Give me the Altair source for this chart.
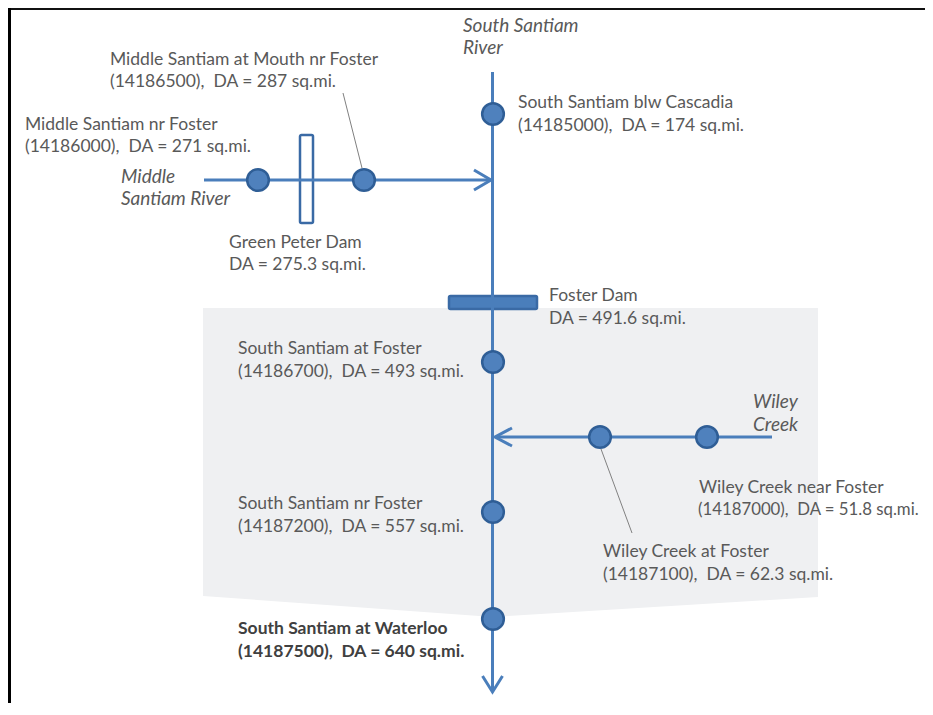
import altair as alt
import pandas as pd

# ---- schematic data (page-pixel coordinates) ----
# shaded area below Foster Dam
shade_x = [203, 493, 818]
shade_top = [308, 308, 308]
shade_bottom = [596, 617, 597]

# river polylines: id, x, y
river_id = ["main", "main", "middle", "middle", "wiley", "wiley",
            "arr_mid", "arr_mid", "arr_mid",
            "arr_wil", "arr_wil", "arr_wil",
            "arr_dn", "arr_dn", "arr_dn"]
river_x = [492.5, 492.5, 204, 490, 497, 772,
           474, 491, 474,
           512, 495, 512,
           482.5, 492.5, 502.5]
river_y = [72, 690, 180, 180, 437, 437,
           170, 180, 190,
           428, 437, 446,
           676, 692, 676]

# frame lines
frame_id = ["top", "top", "left", "left"]
frame_x = [8, 925, 9.5, 9.5]
frame_y = [9, 9, 8, 703]

# leader lines
leader_id = ["mouth", "mouth", "wiley", "wiley"]
leader_x = [343, 362, 601, 632]
leader_y = [93, 168, 449, 533]

# dams
dam_name = ["Green Peter", "Foster"]
dam_x1 = [300, 449]
dam_x2 = [313, 537]
dam_y1 = [135, 296]
dam_y2 = [223, 309]
dam_fill = ["#FFFFFF", "#4A7EBB"]

# gauging stations
station_x = [493, 258, 364, 493, 600, 707, 493, 493]
station_y = [114, 180, 180, 362, 437, 437, 512, 619]

# labels
label_text = [
    "Middle Santiam at Mouth nr Foster", "(14186500),\u00a0 DA = 287 sq.mi.",
    "Middle Santiam nr Foster", "(14186000),\u00a0 DA = 271 sq.mi.",
    "South Santiam blw Cascadia", "(14185000),\u00a0 DA = 174 sq.mi.",
    "Green Peter Dam", "DA = 275.3 sq.mi.",
    "Foster Dam", "DA = 491.6 sq.mi.",
    "South Santiam at Foster", "(14186700),\u00a0 DA = 493 sq.mi.",
    "Wiley Creek near Foster", "(14187000),\u00a0 DA = 51.8 sq.mi.",
    "Wiley Creek at Foster", "(14187100),\u00a0 DA = 62.3 sq.mi.",
    "South Santiam nr Foster", "(14187200),\u00a0 DA = 557 sq.mi.",
]
label_x = [110, 110, 25, 25, 518, 518, 229, 229, 549, 549,
           238, 238, 699, 698, 603, 603, 238, 238]
label_y = [65, 87, 130, 152, 108, 131, 248, 270, 301, 324,
           354, 377, 493, 515, 557, 580, 509, 532]
label_size = [17.5, 17.5, 17.5, 17.5, 17.5, 17.5, 17.5, 17.5, 17.5, 17.5,
              17.5, 17.5, 17.5, 16.8, 17.5, 17.5, 17.5, 17.5]

river_label_text = ["South Santiam", "River", "Middle", "Santiam River", "Wiley", "Creek"]
river_label_x = [463, 463, 121, 121, 753, 753]
river_label_y = [32, 54, 183, 205, 408, 431]

bold_text = ["South Santiam at Waterloo", "(14187500),\u00a0 DA = 640 sq.mi."]
bold_x = [238, 238]
bold_y = [634, 657]

# ---- scales: data coordinates equal page pixels ----
W, H = 917, 695
xs = alt.Scale(domain=[8, 8 + W], range=[0, W], nice=False, zero=False)
ys = alt.Scale(domain=[8, 8 + H], range=[0, H], nice=False, zero=False)


def X(f="x"):
    return alt.X(f, type="quantitative", scale=xs, axis=None)


def Y(f="y"):
    return alt.Y(f, type="quantitative", scale=ys, axis=None)


shade = alt.Chart(pd.DataFrame({"x": shade_x, "y": shade_top, "y2": shade_bottom})).mark_area(
    color="#EFF0F2"
).encode(x=X(), y=Y(), y2="y2:Q")

frame_df = pd.DataFrame({"id": frame_id, "x": frame_x, "y": frame_y, "o": range(len(frame_x))})
frame_top = alt.Chart(frame_df[frame_df.id == "top"]).mark_line(color="#111111", strokeWidth=2).encode(
    x=X(), y=Y(), detail="id:N", order="o:Q")
frame_left = alt.Chart(frame_df[frame_df.id == "left"]).mark_line(color="#000000", strokeWidth=3).encode(
    x=X(), y=Y(), detail="id:N", order="o:Q")

leaders = alt.Chart(pd.DataFrame({"id": leader_id, "x": leader_x, "y": leader_y,
                                  "o": range(len(leader_x))})).mark_line(
    color="#808080", strokeWidth=1).encode(x=X(), y=Y(), detail="id:N", order="o:Q")

dams = alt.Chart(pd.DataFrame({"name": dam_name, "x": dam_x1, "x2": dam_x2, "y": dam_y1,
                               "y2": dam_y2, "fill": dam_fill})).mark_rect(
    stroke="#3A6AA5", strokeWidth=2.5, cornerRadius=1.5).encode(
    x=X(), x2="x2:Q", y=Y(), y2="y2:Q", fill=alt.Fill("fill:N", scale=None))

rivers = alt.Chart(pd.DataFrame({"id": river_id, "x": river_x, "y": river_y,
                                 "o": range(len(river_x))})).mark_line(
    color="#4A7EBB", strokeWidth=3, strokeJoin="miter", strokeCap="butt").encode(
    x=X(), y=Y(), detail="id:N", order="o:Q")

stations = alt.Chart(pd.DataFrame({"x": station_x, "y": station_y})).mark_point(
    shape="circle", filled=True, size=470, fill="#4F81BD", stroke="#2F5E96",
    strokeWidth=2.5, opacity=1).encode(x=X(), y=Y())

labels = alt.Chart(pd.DataFrame({"x": label_x, "y": label_y, "t": label_text,
                                 "s": label_size})).mark_text(
    align="left", baseline="alphabetic", font="Lato", color="#595959").encode(
    x=X(), y=Y(), text="t:N", size=alt.Size("s:Q", scale=None, legend=None))

river_labels = alt.Chart(pd.DataFrame({"x": river_label_x, "y": river_label_y,
                                       "t": river_label_text})).mark_text(
    align="left", baseline="alphabetic", font="Lato", fontSize=19, fontStyle="italic",
    color="#595959").encode(x=X(), y=Y(), text="t:N")

bold_labels = alt.Chart(pd.DataFrame({"x": bold_x, "y": bold_y, "t": bold_text})).mark_text(
    align="left", baseline="alphabetic", font="Lato", fontSize=17.5, fontWeight="bold",
    color="#404040").encode(x=X(), y=Y(), text="t:N")

chart = alt.layer(
    shade, frame_top, frame_left, leaders, dams, rivers, stations,
    labels, river_labels, bold_labels
).properties(
    width=W, height=H, padding=0, autosize=alt.AutoSizeParams(type="none"), background="white"
).configure_view(stroke=None)

chart.save("out.html", embed_options={"renderer": "svg", "actions": False})
